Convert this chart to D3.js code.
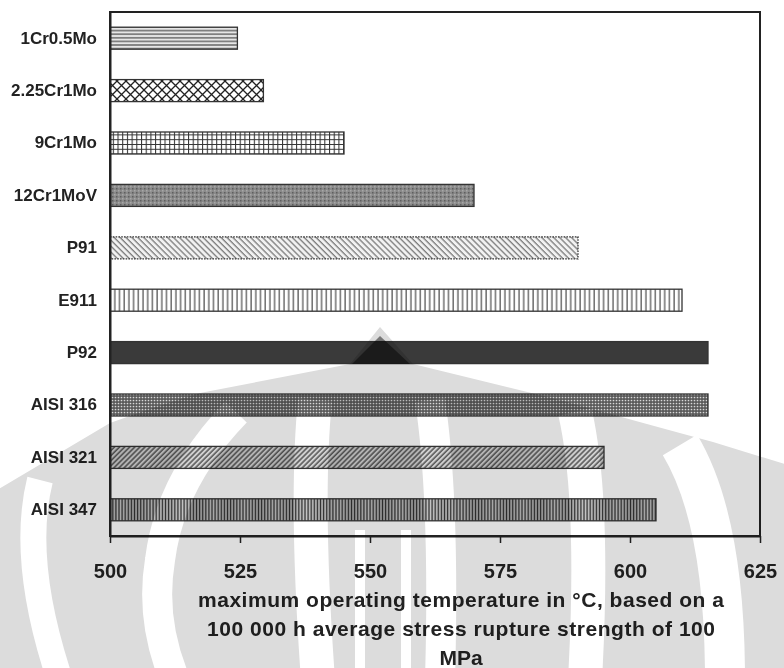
<!DOCTYPE html>
<html>
<head>
<meta charset="utf-8">
<script src="https://cdn.jsdelivr.net/npm/d3@7"></script>
<style>
  body { margin: 0; background: #fff; }
  svg { display: block; }
  text { font-family: "Liberation Sans", Arial, sans-serif; font-weight: bold; fill: #222; }
</style>
</head>
<body>
<svg id="chart" width="784" height="668"></svg>
<script>
// Steel grades and their maximum operating temperature (°C)
const alloys = ["1Cr0.5Mo", "2.25Cr1Mo", "9Cr1Mo", "12Cr1MoV", "P91", "E911", "P92", "AISI 316", "AISI 321", "AISI 347"];
const maxTemps = [524.5, 529.5, 545, 570, 590, 610, 615, 615, 595, 605];
const fillNames = ["hstripe", "diamond", "grid", "speckle", "bdiag", "vstripe", "solid", "dots", "fdiag", "vdense"];
const tickValues = [500, 525, 550, 575, 600, 625];
const axisTitle = [
  "maximum operating temperature in °C, based on a",
  "100 000 h average stress rupture strength of 100",
  "MPa"
];
const titleWidths = [526, 508, null];

const svg = d3.select("#chart");
const plot = { left: 110, right: 760, top: 12, bottom: 536 };

const x = d3.scaleLinear().domain([500, 625]).range([plot.left, plot.right]);
const y = d3.scaleBand().domain(alloys).range([plot.top, plot.bottom])
  .paddingInner(0.58).paddingOuter(0.29);

// ---- hatch patterns ----
const defs = svg.append("defs");
function pattern(id, w, h, bg, transform) {
  const p = defs.append("pattern").attr("id", id)
    .attr("patternUnits", "userSpaceOnUse").attr("width", w).attr("height", h);
  if (transform) p.attr("patternTransform", transform);
  p.append("rect").attr("width", w).attr("height", h).attr("fill", bg);
  return p;
}
let p;
p = pattern("hstripe", 8, 3.6, "#e6e6e6");
p.append("line").attr("x1", 0).attr("x2", 8).attr("y1", 1.8).attr("y2", 1.8).attr("stroke", "#6a6a6a").attr("stroke-width", 1.5);

p = pattern("diamond", 9, 9, "#fff");
p.append("path").attr("d", "M0,0L9,9M9,0L0,9").attr("stroke", "#222").attr("stroke-width", 1.3);

p = pattern("grid", 4.7, 4.8, "#fff");
p.append("path").attr("d", "M0.5,0V4.8M0,0.5H4.7").attr("stroke", "#333").attr("stroke-width", 1.1);

p = pattern("speckle", 4, 4, "#8a8a8a");
p.append("rect").attr("x", 0).attr("y", 0).attr("width", 1.5).attr("height", 1.5).attr("fill", "#5e5e5e");
p.append("rect").attr("x", 2).attr("y", 2).attr("width", 1.5).attr("height", 1.5).attr("fill", "#a8a8a8");

p = pattern("bdiag", 4.2, 4.2, "#f2f2f2", "rotate(-45)");
p.append("line").attr("x1", 1).attr("x2", 1).attr("y1", 0).attr("y2", 4.2).attr("stroke", "#7a7a7a").attr("stroke-width", 1.3);

p = pattern("vstripe", 4.7, 6, "#fff");
p.append("line").attr("x1", 2).attr("x2", 2).attr("y1", 0).attr("y2", 6).attr("stroke", "#3a3a3a").attr("stroke-width", 1.1);

p = pattern("solid", 4, 4, "#3a3a3a");

p = pattern("dots", 3, 3, "#5a5a5a");
p.append("circle").attr("cx", 1.5).attr("cy", 1.5).attr("r", 0.85).attr("fill", "#d8d8d8");

p = pattern("fdiag", 3.6, 3.6, "#d0d0d0", "rotate(45)");
p.append("line").attr("x1", 1).attr("x2", 1).attr("y1", 0).attr("y2", 3.6).attr("stroke", "#4a4a4a").attr("stroke-width", 1.4);

p = pattern("vdense", 3.1, 6, "#c4c4c4");
p.append("line").attr("x1", 1.2).attr("x2", 1.2).attr("y1", 0).attr("y2", 6).attr("stroke", "#2e2e2e").attr("stroke-width", 1.4);

// ---- bars ----
const rows = alloys.map((a, i) => ({ alloy: a, temp: maxTemps[i], fill: fillNames[i] }));
svg.append("g").selectAll("rect").data(rows).join("rect")
  .attr("x", x(500))
  .attr("y", d => y(d.alloy))
  .attr("width", d => x(d.temp) - x(500))
  .attr("height", y.bandwidth())
  .attr("fill", d => `url(#${d.fill})`)
  .attr("stroke", "#333")
  .attr("stroke-width", 1.3)
  .attr("stroke-dasharray", d => d.fill === "bdiag" ? "1.6,1.2" : null);

// ---- frame and axes ----
svg.append("rect")
  .attr("x", plot.left).attr("y", plot.top)
  .attr("width", plot.right - plot.left).attr("height", plot.bottom - plot.top)
  .attr("fill", "none").attr("stroke", "#222").attr("stroke-width", 2);

const xAxis = svg.append("g").attr("transform", `translate(0,${plot.bottom})`)
  .call(d3.axisBottom(x).tickValues(tickValues).tickFormat(d3.format("d"))
    .tickSize(7).tickSizeOuter(0).tickPadding(21));
xAxis.select(".domain").attr("stroke", "#222").attr("stroke-width", 2);
xAxis.selectAll(".tick line").attr("stroke", "#222").attr("stroke-width", 1.5);
xAxis.selectAll("text").attr("font-size", 20).attr("fill", "#222")
  .style("font-family", "'Liberation Sans', Arial, sans-serif").style("font-weight", "bold");

const yAxis = svg.append("g").attr("transform", `translate(${plot.left},0)`)
  .call(d3.axisLeft(y).tickSize(0).tickPadding(13));
yAxis.select(".domain").attr("stroke", "#222").attr("stroke-width", 2);
yAxis.selectAll("text").attr("font-size", 17).attr("fill", "#222")
  .style("font-family", "'Liberation Sans', Arial, sans-serif").style("font-weight", "bold");

// ---- axis title ----
svg.append("g").selectAll("text").data(axisTitle).join("text")
  .attr("text-anchor", "middle")
  .attr("font-size", 21)
  .attr("x", 461)
  .attr("y", (d, i) => 607 + i * 29)
  .attr("textLength", (d, i) => titleWidths[i])
  .attr("lengthAdjust", "spacing")
  .text(d => d);

// ---- faint university emblem behind the lower part of the page ----
const mark = svg.append("g").style("mix-blend-mode", "multiply").style("isolation", "isolate");
mark.append("path")
  .attr("d", "M-20,500 L110,423 Q160,405 200,393 L350,364 L380,327 L413,364 L560,400 Q650,425 713,442 L804,470 L804,668 L-20,668 Z")
  .attr("fill", "#dcdcdc");
// darker tip of the emblem where it crosses the solid bar
mark.append("path")
  .attr("d", "M380,336 L352,364 L410,364 Z")
  .attr("fill", "#777");
const band = d => mark.append("path").attr("d", d).attr("fill", "none").attr("stroke", "#fff");
band("M236,412 Q170,480 160,560 Q150,620 175,680").attr("stroke-width", 30);
band("M40,480 Q20,560 60,680").attr("stroke-width", 26);
band("M315,400 Q305,500 318,680").attr("stroke-width", 34);
band("M360,530 L360,680").attr("stroke-width", 10);
band("M406,530 L406,680").attr("stroke-width", 10);
band("M430,400 Q445,500 440,680").attr("stroke-width", 30);
band("M575,412 Q595,500 585,680").attr("stroke-width", 34);
band("M680,445 Q725,520 725,680").attr("stroke-width", 40);
</script>
</body>
</html>
